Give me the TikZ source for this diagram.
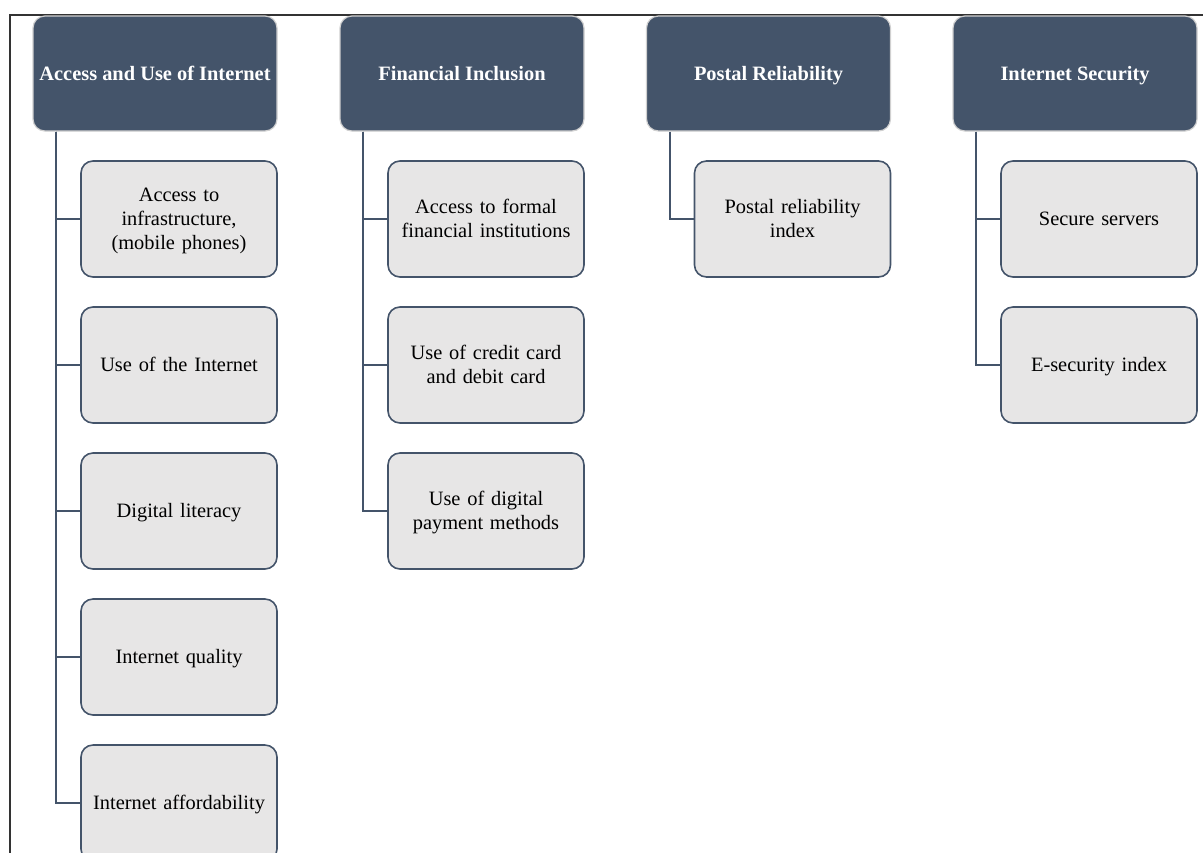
\documentclass[tikz,border=0pt]{standalone}
\usepackage{fontspec}
\setmainfont{Liberation Serif}
\usetikzlibrary{positioning,calc}

\definecolor{slate}{HTML}{44546A}
\definecolor{paleitem}{HTML}{E7E6E6}
\definecolor{rimgray}{HTML}{D0D0D0}

\newcommand{\itemstrut}{\rule[-2.6pt]{0pt}{12pt}}

\tikzset{
	catbox/.style={draw=rimgray, line width=0.6pt, fill=slate, rounded corners=6pt,
		minimum width=122pt, minimum height=57.5pt, inner sep=1pt,
		text=white, font=\fontsize{10.2}{12}\selectfont\bfseries, align=center,
		execute at begin node=\itemstrut, execute at end node=\itemstrut},
	itembox/.style={draw=slate, line width=0.8pt, fill=paleitem, rounded corners=6pt,
		minimum width=98pt, minimum height=58pt, inner sep=1pt, text width=94pt,
		font=\fontsize{10.2}{12}\selectfont, align=center,
		execute at begin node=\itemstrut, execute at end node=\itemstrut},
	branch/.style={draw=slate, line width=1pt}
}

\begin{document}
\begin{tikzpicture}[x=0.5pt,y=-0.5pt]
	\useasboundingbox (0,0) rectangle (1203,852);
	\clip (0,0) rectangle (1203,852);
	
	%frame
	\draw[line width=0.8pt, black!80] (10,860) -- (10,15) -- (1210,15);
	
	%headers
	\node[catbox] (access)  at (155,73.5)  {Access and Use of Internet};
	\node[catbox] (finance) at (462,73.5)  {Financial Inclusion};
	\node[catbox] (postal)  at (768.5,73.5) {Postal Reliability};
	\node[catbox] (secure)  at (1075,73.5) {Internet Security};
	
	%items, first column
	\node[itembox] (infra)   at (179,219) {Access to\\ infrastructure,\\ (mobile phones)};
	\node[itembox] (useweb)  at (179,365) {Use of the Internet};
	\node[itembox] (literacy) at (179,511) {Digital literacy};
	\node[itembox] (quality) at (179,657) {Internet quality};
	\node[itembox] (afford)  at (179,803) {Internet affordability};
	%
	\node[itembox] (formal)  at (486,219) {Access to formal\\ financial institutions};
	\node[itembox] (cards)   at (486,365) {Use of credit card\\ and debit card};
	\node[itembox] (digipay) at (486,511) {Use of digital\\ payment methods};
	%
	\node[itembox] (relindex) at (792.5,219) {Postal reliability\\ index};
	%
	\node[itembox] (servers) at (1099,219) {Secure servers};
	\node[itembox] (esec)    at (1099,365) {E-security index};
	
	%branches
	\draw[branch] ($(access.south west)+(24,0)$) |- (afford.west);
	\draw[branch] ($(access.south west)+(24,0)$) |- (infra.west);
	\draw[branch] ($(access.south west)+(24,0)$) |- (useweb.west);
	\draw[branch] ($(access.south west)+(24,0)$) |- (literacy.west);
	\draw[branch] ($(access.south west)+(24,0)$) |- (quality.west);
	%
	\draw[branch] ($(finance.south west)+(24,0)$) |- (digipay.west);
	\draw[branch] ($(finance.south west)+(24,0)$) |- (formal.west);
	\draw[branch] ($(finance.south west)+(24,0)$) |- (cards.west);
	%
	\draw[branch] ($(postal.south west)+(24,0)$) |- (relindex.west);
	%
	\draw[branch] ($(secure.south west)+(24,0)$) |- (esec.west);
	\draw[branch] ($(secure.south west)+(24,0)$) |- (servers.west);
\end{tikzpicture}
\end{document}
